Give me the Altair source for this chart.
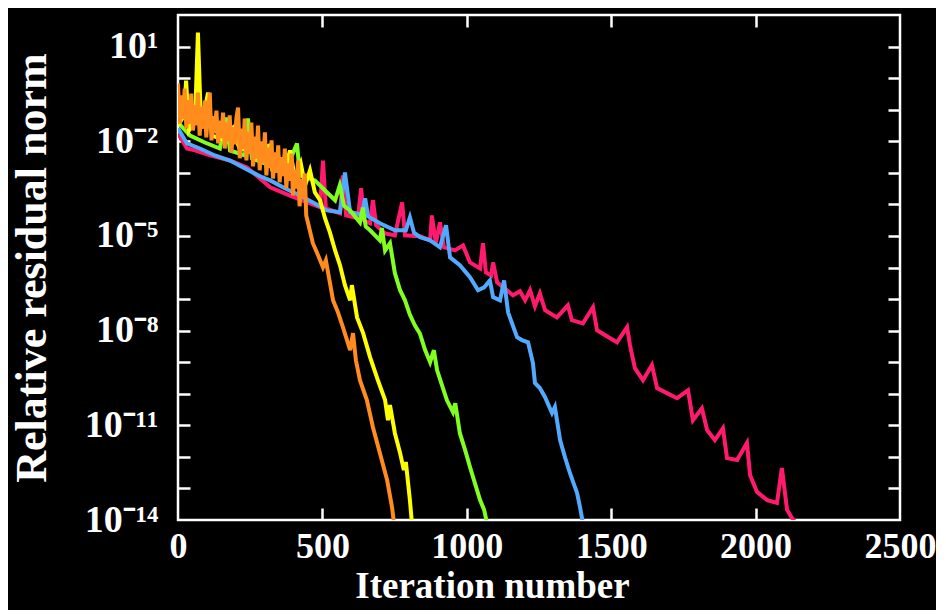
import altair as alt
import pandas as pd

# ---------------- data ----------------
series_names = ["pink", "blue", "green", "yellow", "orange"]
series_colors = ["#ff1a6e", "#52aaff", "#80ff20", "#ffff00", "#ff8c1c"]

pink_it = [0, 31, 59, 111, 180, 239, 284, 319, 388, 457, 492, 502, 512, 561, 571, 582, 623, 634, 644, 665,
           675, 686, 717, 751, 776, 786, 838, 873, 879, 893, 907, 921, 959, 987, 1011, 1046, 1056, 1066, 1084, 1091,
           1105, 1139, 1160, 1184, 1202, 1219, 1236, 1253, 1271, 1312, 1350, 1364, 1402, 1437, 1451, 1485, 1520, 1555, 1565, 1582,
           1610, 1641, 1659, 1693, 1728, 1766, 1783, 1814, 1832, 1859, 1887, 1901, 1936, 1970, 1981, 2005, 2040, 2074, 2091, 2109,
           2126, 2140]
pink_exp = [-1.75, -2.23, -2.29, -2.45, -2.61, -2.83, -3.18, -3.46, -3.72, -3.97, -4.09, -2.61, -4.13, -4.28, -3.08, -4.35, -4.44, -3.49, -4.51, -4.60,
            -3.87, -4.66, -4.92, -4.98, -3.94, -4.98, -5.01, -5.14, -4.35, -5.23, -4.57, -5.36, -5.46, -5.30, -5.84, -6.03, -5.23, -6.15, -6.25, -5.84,
            -6.47, -6.72, -6.88, -6.75, -7.04, -6.72, -7.23, -6.82, -7.35, -7.58, -7.20, -7.67, -7.77, -7.26, -7.99, -8.18, -8.37, -7.89, -8.46, -9.19,
            -9.57, -9.09, -9.82, -9.98, -10.14, -9.89, -10.84, -10.46, -11.15, -11.47, -11.09, -12.04, -12.10, -11.56, -12.58, -13.11, -13.37, -13.46, -12.35, -13.68,
            -13.94, -14.1]

blue_it = [0, 31, 76, 128, 180, 232, 284, 319, 370, 422, 474, 516, 561, 578, 596, 637, 648, 658, 699, 751,
           789, 803, 817, 838, 873, 907, 928, 942, 976, 1011, 1039, 1060, 1080, 1091, 1115, 1129, 1143, 1174, 1191, 1212,
           1229, 1236, 1253, 1271, 1295, 1305, 1323, 1340, 1357, 1382, 1392, 1402]
blue_exp = [-1.59, -2.07, -2.23, -2.45, -2.61, -2.86, -3.11, -3.24, -3.49, -3.72, -3.97, -4.19, -4.25, -2.99, -4.25, -4.32, -3.81, -4.38, -4.60, -4.82,
            -4.82, -4.41, -4.89, -5.04, -5.14, -5.36, -4.66, -5.68, -5.93, -6.31, -6.72, -6.63, -6.41, -6.94, -7.04, -6.41, -7.42, -8.21, -8.30, -8.37,
            -9.03, -9.66, -9.82, -10.11, -10.61, -10.42, -11.47, -12.01, -12.51, -13.15, -13.59, -14.1]

green_it = [0, 42, 93, 145, 166, 180, 232, 242, 256, 319, 370, 412, 422, 474, 509, 544, 560, 575, 596, 630,
            640, 650, 665, 699, 706, 717, 734, 751, 769, 786, 803, 821, 838, 855, 873, 886, 897, 914, 931, 952,
            960, 976, 994, 1011, 1028, 1046, 1060, 1070]
green_exp = [-1.41, -1.82, -2.04, -2.23, -1.25, -2.29, -2.45, -1.28, -2.54, -2.77, -2.99, -2.07, -3.08, -3.24, -3.56, -3.87, -3.40, -4.05, -4.19, -4.57,
             -4.10, -4.70, -4.82, -5.14, -4.75, -5.46, -5.23, -6.18, -6.72, -7.04, -7.50, -7.85, -8.10, -8.60, -9.00, -8.62, -9.25, -9.73, -10.20, -10.58,
             -10.30, -11.25, -11.78, -12.32, -12.83, -13.37, -13.68, -14.1]

yellow_it = [0, 21, 28, 38, 59, 69, 80, 104, 118, 163, 190, 215, 249, 267, 290, 319, 325, 345, 370, 388,
             405, 425, 440, 457, 474, 492, 509, 526, 544, 561, 578, 596, 602, 620, 641, 665, 692, 717, 727, 734,
             751, 769, 782, 789, 803, 810]
yellow_exp = [-1.50, -1.18, -0.08, -1.66, -1.34, 1.44, -1.59, -0.46, -1.82, -1.97, -1.60, -2.29, -2.13, -2.54, -2.20, -2.13, -2.77, -2.45, -2.92, -2.29,
              -3.18, -2.70, -3.40, -2.92, -3.62, -3.87, -4.44, -4.89, -5.46, -5.93, -6.56, -7.04, -6.56, -7.58, -8.08, -8.84, -9.57, -10.20, -10.84, -10.36,
              -11.25, -11.88, -12.42, -12.16, -13.37, -14.1]

orange_it = [0, 6, 12, 17, 23, 29, 35, 40, 46, 52, 58, 63, 69, 75, 81, 87, 93, 98, 104, 110,
             116, 121, 127, 133, 139, 144, 150, 156, 162, 168, 173, 179, 185, 191, 197, 202, 208, 214, 220, 226,
             231, 237, 243, 249, 254, 260, 266, 272, 277, 283, 289, 295, 301, 306, 312, 318, 324, 329, 335, 341,
             347, 352, 358, 364, 370, 375, 381, 387, 393, 398, 404, 410, 416, 421, 427, 433, 439, 444, 467, 485,
             502, 512, 537, 554, 571, 596, 606, 616, 630, 654, 675, 699, 724, 741, 748]
orange_exp = [-0.17, -1.44, -0.55, -1.30, -0.33, -1.59, -0.70, -1.45, -0.49, -1.66, -0.85, -1.50, -0.46, -1.82, -0.90, -1.60, -0.71, -1.88, -1.10, -0.46,
              -1.97, -1.20, -1.75, -1.03, -2.07, -1.35, -1.90, -1.09, -2.23, -1.40, -2.00, -1.18, -2.35, -1.55, -2.10, -1.28, -0.93, -2.54, -1.60, -2.25,
              -1.28, -2.61, -1.70, -2.40, -1.41, -2.80, -1.85, -2.55, -1.50, -2.92, -2.00, -2.70, -1.72, -3.08, -2.20, -2.85, -1.97, -3.18, -2.35, -3.00,
              -2.13, -3.30, -2.50, -3.10, -2.23, -3.49, -2.70, -3.25, -2.39, -3.72, -2.90, -3.50, -2.61, -4.06, -3.20, -3.80, -3.02, -4.35, -5.23, -5.61,
              -5.99, -5.77, -7.04, -7.42, -7.89, -8.62, -8.08, -8.94, -9.57, -10.20, -11.06, -11.88, -12.73, -13.59, -14.1]

x_ticks = [0, 500, 1000, 1500, 2000, 2500]
y_label_exps = [1, -2, -5, -8, -11, -14]
y_label_texts = ["10\u00b9", "10\u207b\u00b2", "10\u207b\u2075", "10\u207b\u2078", "10\u207b\u00b9\u00b9", "10\u207b\u00b9\u2074"]
y_minor_exps = list(range(-13, 2))

# ---------------- build ----------------
FONT = "Liberation Serif"
W, H = 722, 505

iters = [pink_it, blue_it, green_it, yellow_it, orange_it]
exps = [pink_exp, blue_exp, green_exp, yellow_exp, orange_exp]

xs = alt.Scale(domain=[0, 2500], nice=False, zero=False)
ys = alt.Scale(type="log", domain=[1e-14, 1e2], nice=False)

label_expr = ""
for e, t in zip(y_label_exps, y_label_texts):
    label_expr += f"round(log(datum.value)/LN10) == {e} ? '{t}' : "
label_expr += "''"

tick_common = dict(labels=False, ticks=True, tickSize=12, tickWidth=2.5, tickColor="white",
                   domain=False, grid=False, title=None)

x_axes = [
    alt.Axis(orient="bottom", values=x_ticks, format="d", labelFont=FONT, labelFontSize=36, labelFontWeight="bold",
             labelColor="white", labelPadding=9, labelFlush=False, labelOverlap=False, ticks=False, tickSize=0,
             domain=False, grid=False, title="Iteration number", titleFont=FONT, titleFontSize=37,
             titleFontWeight="bold", titleColor="white", titleX=314, titleY=77, titleBaseline="alphabetic",
             titleAlign="center"),
    alt.Axis(orient="top", offset=-H, values=x_ticks[1:-1], **tick_common),
    alt.Axis(orient="bottom", offset=-H, values=x_ticks[1:-1], **tick_common),
]
y_axes = [
    alt.Axis(orient="left", values=[10.0 ** e for e in y_label_exps], labelExpr=label_expr, labelFont=FONT,
             labelFontSize=38, labelFontWeight="bold", labelColor="white", labelPadding=20, labelOverlap=False,
             labelFlush=False, ticks=False, tickSize=0, domain=False, grid=False,
             title="Relative residual norm", titleFont=FONT, titleFontSize=44, titleFontWeight="bold",
             titleColor="white", titleAngle=270, titleX=-133, titleY=H / 2, titleBaseline="alphabetic",
             titleAlign="center"),
    alt.Axis(orient="right", offset=-W, values=[10.0 ** e for e in y_minor_exps], **tick_common),
    alt.Axis(orient="left", offset=-W, values=[10.0 ** e for e in y_minor_exps], **tick_common),
]

layers = []
for i, (name, color, it, ex) in enumerate(zip(series_names, series_colors, iters, exps)):
    df = pd.DataFrame({"iteration": it, "residual": [10.0 ** v for v in ex], "series": name})
    xa = x_axes[i] if i < len(x_axes) else None
    ya = y_axes[i] if i < len(y_axes) else None
    layers.append(
        alt.Chart(df).mark_line(color=color, strokeWidth=4, clip=True).encode(
            x=alt.X("iteration:Q", scale=xs, axis=xa),
            y=alt.Y("residual:Q", scale=ys, axis=ya),
        )
    )

chart = (
    alt.layer(*layers)
    .resolve_axis(x="independent", y="independent")
    .properties(
        width=W,
        height=H,
        padding={"left": 170, "top": 7, "right": 36, "bottom": 90},
        autosize=alt.AutoSizeParams(type="none"),
    )
    .configure(background="black")
    .configure_view(stroke="white", strokeWidth=2.5, fill="black")
)

chart.save("out.html", embed_options={"renderer": "svg", "actions": False})
